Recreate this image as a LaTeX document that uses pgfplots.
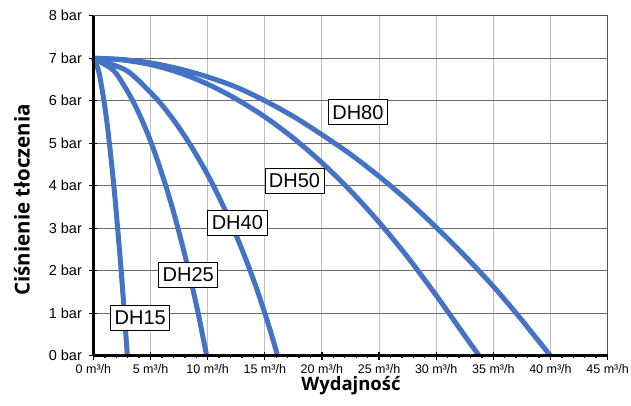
\documentclass[border=0pt]{standalone}
\usepackage{fontspec}
\setmainfont{Liberation Sans}
\newfontfamily\titlefont{Open Sans}
\usepackage{pgfplots}
\pgfplotsset{compat=1.18}
\definecolor{curve}{HTML}{4472C4}
\definecolor{vgrid}{HTML}{BFBFBF}
\definecolor{hgrid}{HTML}{6A6A6A}
\begin{document}
\begin{tikzpicture}
\begin{axis}[
  scale only axis,
  width=514.2bp, height=340bp,
  xmin=0, xmax=45, ymin=0, ymax=8,
  xtick={0,5,...,45},
  xticklabels={0 m³/h,5 m³/h,10 m³/h,15 m³/h,20 m³/h,25 m³/h,30 m³/h,35 m³/h,40 m³/h,45 m³/h},
  minor x tick num=4,
  ytick={0,1,...,8},
  yticklabels={0 bar,1 bar,2 bar,3 bar,4 bar,5 bar,6 bar,7 bar,8 bar},
  xtick pos=bottom, ytick pos=left,
  tick align=center,
  major tick length=8bp,
  minor tick length=4bp,
  every tick/.style={black, line width=1.2bp},
  minor tick style={black, line width=1.4bp},
  xticklabel style={font=\fontsize{12.5bp}{14bp}\selectfont, yshift=-1.5bp},
  yticklabel style={font=\fontsize{14.5bp}{16bp}\selectfont, xshift=-4bp},
  grid=major,
  x grid style={vgrid, line width=0.9bp},
  y grid style={hgrid, line width=0.9bp},
  axis line style={draw=hgrid!80!black, line width=0.9bp},
  xlabel={Wydajność},
  ylabel={Ciśnienie tłoczenia},
  xlabel style={font=\titlefont\bfseries\fontsize{18.5bp}{20bp}\selectfont, at={(axis description cs:0.501,-0.089)}, anchor=center},
  ylabel style={font=\titlefont\bfseries\fontsize{20.5bp}{22bp}\selectfont, at={(axis description cs:-0.139,0.458)}, anchor=center},
  clip=false,
]
\tikzset{pc/.style={curve, line width=5bp, smooth, mark=none}}
% DH15
\addplot[pc] coordinates {(0,7) (0.40,6.75) (0.61,6.5) (0.92,6) (1.18,5.5) (1.40,5) (1.60,4.5) (1.79,4) (1.96,3.5) (2.12,3) (2.28,2.5) (2.43,2) (2.57,1.5) (2.71,1) (2.84,0.5) (2.97,0)};
% DH25
\addplot[pc] coordinates {(0,7) (1.60,6.75) (2.35,6.5) (3.44,6) (4.32,5.5) (5.07,5) (5.73,4.5) (6.33,4) (6.89,3.5) (7.40,3) (7.88,2.5) (8.34,2) (8.76,1.5) (9.17,1) (9.54,0.5) (9.91,0)};
% DH40
\addplot[pc] coordinates {(0,7) (2.62,6.75) (3.85,6.5) (5.68,6) (7.14,5.5) (8.39,5) (9.50,4.5) (10.5,4) (11.40,3.5) (12.23,3) (13.0,2.5) (13.72,2) (14.39,1.5) (15.0,1) (15.58,0.5) (16.12,0)};
% DH50
\addplot[pc] coordinates {(0,7) (2.5,6.96) (5,6.85) (7.5,6.66) (10,6.39) (12.5,6.04) (15,5.62) (17.5,5.12) (20,4.54) (22.5,3.88) (25,3.14) (27.5,2.32) (30,1.42) (32.5,0.47) (33.75,0)};
% DH80
\addplot[pc] coordinates {(0,7) (2.5,6.97) (5,6.89) (7.5,6.75) (10,6.56) (12.5,6.32) (15,6.0) (17.5,5.63) (20,5.2) (22.5,4.74) (25,4.22) (27.5,3.65) (30,3.02) (32.5,2.35) (35,1.63) (37,1.0) (38.5,0.5) (40,0)};
\draw[black, line width=2.6bp] (rel axis cs:0,0) -- (rel axis cs:0,1);
\draw[black, line width=2.4bp] (rel axis cs:0,0) -- (rel axis cs:1,0);
\tikzset{lbl/.style={draw=black, line width=0.7bp, fill=white, inner xsep=4bp, inner ysep=5.5bp, font=\fontsize{20bp}{22bp}\selectfont}}
\node[lbl] at (axis cs:23.15,5.73) {DH80};
\node[lbl] at (axis cs:17.6,4.11) {DH50};
\node[lbl] at (axis cs:12.6,3.12) {DH40};
\node[lbl] at (axis cs:8.3,1.9) {DH25};
\node[lbl] at (axis cs:4.1,0.89) {DH15};
\end{axis}
\pgfresetboundingbox
\path (-93.4bp,-50.3bp) rectangle (537.6bp,355.7bp);
\end{tikzpicture}
\end{document}
